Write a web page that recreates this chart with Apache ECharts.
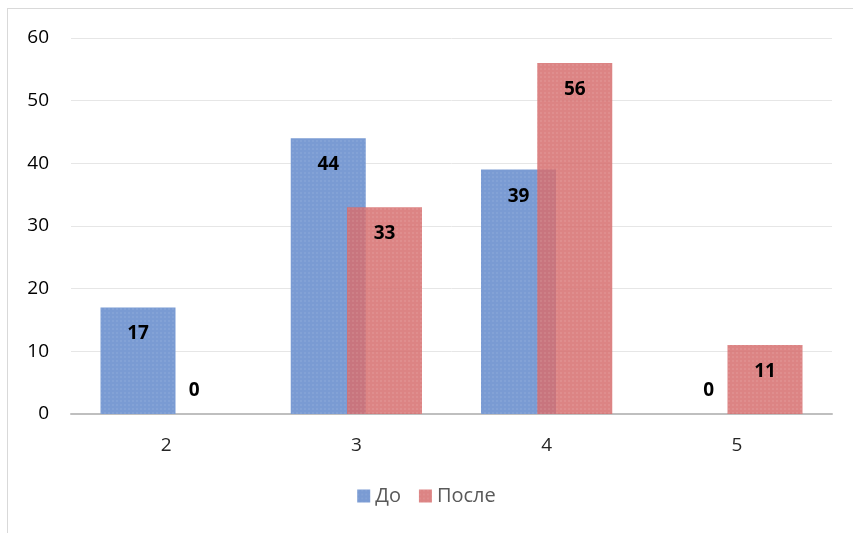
<!DOCTYPE html>
<html>
<head>
<meta charset="utf-8">
<script src="https://cdn.jsdelivr.net/npm/echarts@6/dist/echarts.min.js"></script>
<style>
  html, body { margin: 0; padding: 0; background: #fff; }
  #frame {
    position: absolute; left: 7px; top: 8px; width: 860px; height: 540px;
    border: 1px solid #d9d9d9; box-sizing: border-box;
  }
  #chart { position: absolute; left: 0; top: 0; width: 853px; height: 533px; }
</style>
</head>
<body>
<div id="frame"></div>
<div id="chart"></div>
<script>
const categories = ['2', '3', '4', '5']
const beforeValues = [17, 44, 39, 0]
const afterValues = [0, 33, 56, 11]
const seriesNames = ['До', 'После']

const chart = echarts.init(document.getElementById('chart'))

// подпись: для нуля — над осью, иначе внутри у вершины
const makeData = values => values.map(v => ({
  value: v,
  label: v === 0
    ? { position: 'top', distance: 14 }
    : { position: 'insideTop', distance: 17 }
}))

const decal = {
  symbol: 'rect',
  symbolSize: 0.6,
  dashArrayX: [2, 2],
  dashArrayY: [2, 2],
  color: 'rgba(255,255,255,0.25)'
}

const labelStyle = {
  show: true,
  color: '#000',
  fontWeight: 'bold',
  fontSize: 19,
  fontFamily: 'Open Sans'
}

const option = {
  animation: false,
  grid: { left: 71, right: 21, top: 38, bottom: 119 },
  legend: {
    bottom: 22,
    left: 'center',
    itemWidth: 13,
    itemHeight: 13,
    itemGap: 18,
    icon: 'rect',
    textStyle: { fontSize: 20, color: '#595959', fontFamily: 'Open Sans' },
    data: seriesNames
  },
  xAxis: {
    type: 'category',
    data: categories,
    axisLine: { lineStyle: { color: '#bfbfbf', width: 2 } },
    axisTick: { show: false },
    axisLabel: { color: '#262626', fontSize: 19, margin: 22, fontFamily: 'Open Sans' }
  },
  yAxis: {
    type: 'value',
    min: 0,
    max: 60,
    interval: 10,
    axisLine: { show: false },
    axisTick: { show: false },
    splitLine: { lineStyle: { color: '#e6e6e6', width: 1 } },
    axisLabel: { color: '#000', fontSize: 19, margin: 22, fontFamily: 'Open Sans' }
  },
  series: [
    {
      name: seriesNames[0],
      type: 'bar',
      barWidth: 75,
      barGap: '-25%',
      data: makeData(beforeValues),
      itemStyle: { color: '#7a9bd3', decal: decal },
      label: labelStyle
    },
    {
      name: seriesNames[1],
      type: 'bar',
      barWidth: 75,
      data: makeData(afterValues),
      itemStyle: { color: 'rgba(214,110,110,0.85)', decal: decal },
      label: labelStyle
    }
  ]
}

chart.setOption(option)
</script>
</body>
</html>
